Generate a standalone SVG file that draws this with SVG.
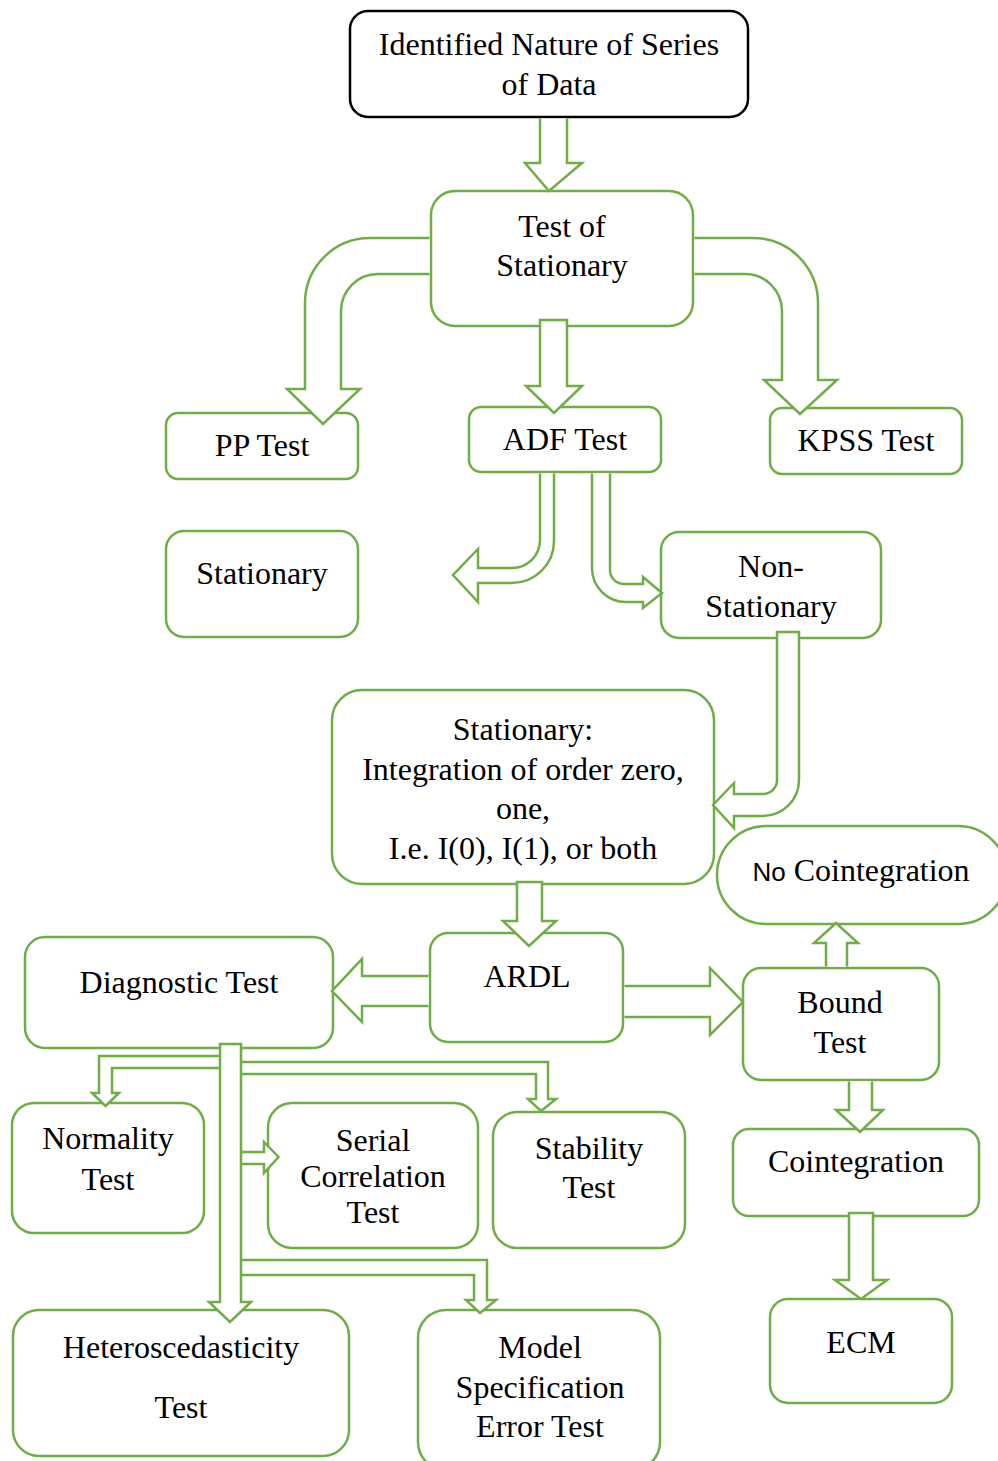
<svg xmlns="http://www.w3.org/2000/svg" width="998" height="1461" viewBox="0 0 998 1461">
<style>
.box{fill:#fff;stroke:#70AD47;stroke-width:2.5}
.top{fill:#fff;stroke:#000;stroke-width:2.5}
.arr{fill:#fff;stroke:#70AD47;stroke-width:2.5;stroke-linejoin:miter}
text{font-family:"Liberation Serif","Times New Roman",serif;font-size:32px;fill:#000;text-anchor:middle}
.sans{font-family:"Liberation Sans",Arial,sans-serif;font-size:26px}
</style>
<rect width="998" height="1461" fill="#fff"/>
<g id="n_identified"><rect class="top" x="350" y="11" width="398" height="106" rx="18"/><text x="549" y="55">Identified Nature of Series</text><text x="549" y="95">of Data</text></g>
<g id="n_test_stationary"><rect class="box" x="431" y="191" width="262" height="135" rx="24"/><text x="562" y="237">Test of</text><text x="562" y="276">Stationary</text></g>
<g id="n_pp"><rect class="box" x="166" y="413" width="192" height="66" rx="12"/><text x="262" y="456">PP Test</text></g>
<g id="n_adf"><rect class="box" x="469" y="407" width="192" height="65" rx="12"/><text x="565" y="450">ADF Test</text></g>
<g id="n_kpss"><rect class="box" x="770" y="408" width="192" height="66" rx="12"/><text x="866" y="451">KPSS Test</text></g>
<g id="n_stationary"><rect class="box" x="166" y="531" width="192" height="106" rx="18"/><text x="262" y="584">Stationary</text></g>
<g id="n_nonstationary"><rect class="box" x="661" y="532" width="220" height="106" rx="18"/><text x="771" y="577">Non-</text><text x="771" y="617">Stationary</text></g>
<g id="n_integration"><rect class="box" x="332" y="690" width="382" height="194" rx="30"/><text x="523" y="740">Stationary:</text><text x="523" y="780">Integration of order zero,</text><text x="523" y="819">one,</text><text x="523" y="859">I.e. I(0), I(1), or both</text></g>
<g id="n_nocoint"><rect class="box" x="717" y="826" width="290" height="98" rx="49"/><text x="861" y="881"><tspan class="sans">No</tspan> Cointegration</text></g>
<g id="n_ardl"><rect class="box" x="430" y="933" width="193" height="109" rx="18"/><text x="527" y="987">ARDL</text></g>
<g id="n_diagnostic"><rect class="box" x="25" y="937" width="308" height="111" rx="20"/><text x="179" y="993">Diagnostic Test</text></g>
<g id="n_bound"><rect class="box" x="743" y="968" width="196" height="112" rx="18"/><text x="840" y="1013">Bound</text><text x="840" y="1053">Test</text></g>
<g id="n_coint"><rect class="box" x="733" y="1129" width="246" height="87" rx="16"/><text x="856" y="1172">Cointegration</text></g>
<g id="n_ecm"><rect class="box" x="770" y="1299" width="182" height="104" rx="18"/><text x="861" y="1353">ECM</text></g>
<g id="n_normality"><rect class="box" x="12" y="1103" width="192" height="130" rx="22"/><text x="108" y="1149">Normality</text><text x="108" y="1190">Test</text></g>
<g id="n_serial"><rect class="box" x="268" y="1103" width="210" height="145" rx="24"/><text x="373" y="1151">Serial</text><text x="373" y="1187">Correlation</text><text x="373" y="1223">Test</text></g>
<g id="n_stability"><rect class="box" x="493" y="1112" width="192" height="136" rx="24"/><text x="589" y="1159">Stability</text><text x="589" y="1198">Test</text></g>
<g id="n_hetero"><rect class="box" x="13" y="1310" width="336" height="146" rx="26"/><text x="181" y="1358">Heteroscedasticity</text><text x="181" y="1418">Test</text></g>
<g id="n_model"><rect class="box" x="418" y="1310" width="242" height="160" rx="28"/><text x="540" y="1358">Model</text><text x="540" y="1398">Specification</text><text x="540" y="1437">Error Test</text></g>
<g id="connectors">
<path class="arr" d="M540,118.5 V163 H525 L549,191 L582,163 H567 V118.5"/>
<path class="arr" d="M429.5,238 H370 A65,65 0 0 0 305,303 V389 H287 L323,424 L360,389 H341 V311 A37,37 0 0 1 378,274 H429.5"/>
<path class="arr" d="M694.5,238 H753 A65,65 0 0 1 818,303 V380 H837 L800,414 L764,380 H782 V311 A37,37 0 0 0 745,274 H694.5"/>
<path class="arr" d="M540,320 V386 H526 L554,413 L582,386 H567 V320 Z"/>
<path class="arr" d="M540,473.5 V540 A28,28 0 0 1 512,568 H478 V549 L453,575 L478,602 V583 H512 A42,42 0 0 0 554,541 V473.5"/>
<path class="arr" d="M592,473.5 V568 A34,34 0 0 0 626,602 H643 V608 L662,593 L643,577 V584 H624 A14,14 0 0 1 610,570 V473.5"/>
<path class="arr" d="M777,632 V780 A14,14 0 0 1 763,794 H734 V783 L713,805 L734,828 V816 H763 A36,36 0 0 0 799,780 V632 Z"/>
<path class="arr" d="M517,882 V921 H503 L529,946 L556,921 H542 V882 Z"/>
<path class="arr" d="M428.5,976 H362 V959 L332,991 L362,1022 V1006 H428.5"/>
<path class="arr" d="M624.5,986 H710 V968 L743,1002 L710,1035 V1017 H624.5"/>
<path class="arr" d="M826,966.5 V943 H814 L836,923 L858,943 H847 V966.5"/>
<path class="arr" d="M849,1081.5 V1110 H836 L860,1132 L883,1110 H872 V1081.5"/>
<path class="arr" d="M849,1213 V1280 H835 L861,1299 L887,1280 H873 V1213 Z"/>
<path class="arr" d="M220,1056 H99 V1093 H92 L105.5,1106 L119,1093 H112 V1068 H220"/>
<path class="arr" d="M241,1062 H548 V1099 H556 L541,1111 L528,1099 H536 V1074 H241"/>
<path class="arr" d="M241,1152 H264 V1142 L278.5,1157 L264,1173 V1164 H241"/>
<path class="arr" d="M241,1260 H487 V1300 H496 L480,1313 L466,1300 H474 V1275 H241"/>
<path class="arr" d="M220,1044 V1302 H209 L230,1322 L251,1302 H241 V1044 Z"/>
</g>
</svg>
